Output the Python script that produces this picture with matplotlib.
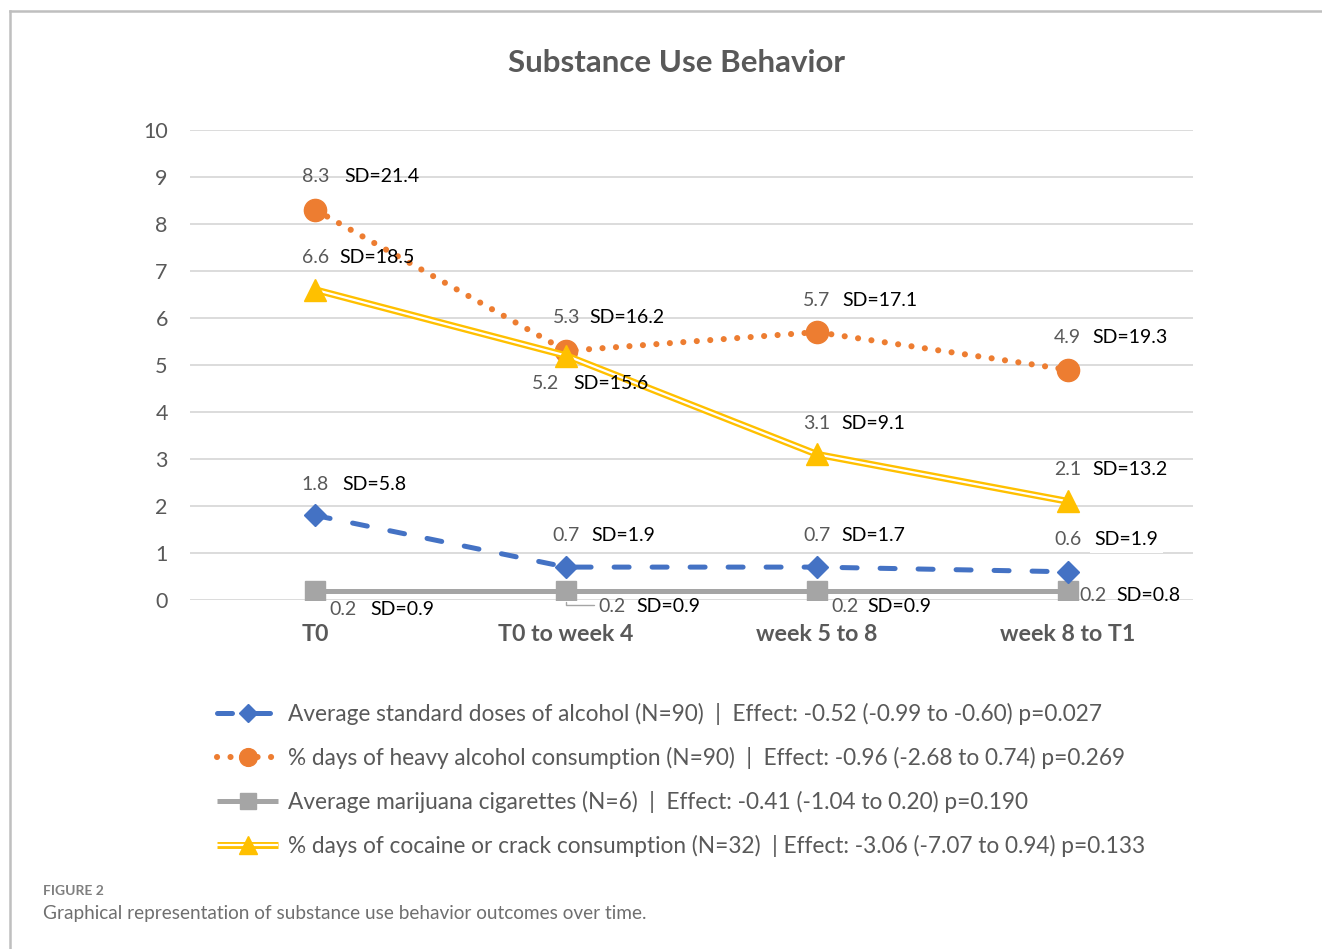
import matplotlib
matplotlib.use("Agg")
import matplotlib.pyplot as plt
from matplotlib.lines import Line2D
from matplotlib.legend_handler import HandlerTuple

plt.rcParams["font.family"] = ["Lato", "DejaVu Sans"]

# data
periods = ["T0", "T0 to week 4", "week 5 to 8", "week 8 to T1"]
alcohol_doses = [1.8, 0.7, 0.7, 0.6]
alcohol_doses_sd = [5.8, 1.9, 1.7, 1.9]
heavy_days = [8.3, 5.3, 5.7, 4.9]
heavy_days_sd = [21.4, 16.2, 17.1, 19.3]
marijuana = [0.2, 0.2, 0.2, 0.2]
marijuana_sd = [0.9, 0.9, 0.9, 0.8]
cocaine_days = [6.6, 5.2, 3.1, 2.1]
cocaine_days_sd = [18.5, 15.6, 9.1, 13.2]

legend_labels = [
    "Average standard doses of alcohol (N=90)  |  Effect: -0.52 (-0.99 to -0.60) p=0.027",
    "% days of heavy alcohol consumption (N=90)  |  Effect: -0.96 (-2.68 to 0.74) p=0.269",
    "Average marijuana cigarettes (N=6)  |  Effect: -0.41 (-1.04 to 0.20) p=0.190",
    "% days of cocaine or crack consumption (N=32)  | Effect: -3.06 (-7.07 to 0.94) p=0.133",
]

BLUE = "#4472C4"
ORANGE = "#ED7D31"
GRAY = "#A5A5A5"
YELLOW = "#FFC000"
TXT = "#595959"

# label offsets in pixels: (value centre dx, dy, SD left dx)
blue_off = [(0, -31, 27), (0, -32, 25), (0, -32, 24), (0, -32, 27)]
orange_off = [(0, -33, 29), (0, -33, 23), (0, -32, 25), (0, -32, 25)]
gray_off = [(28, 19, 55), (46, 16, 70), (28, 16, 50), (25, 5, 49)]
yellow_off = [(0, -32, 24), (-21, 28, 7), (0, -31, 24), (0, -32, 25)]

W, H = 1322, 949
fig = plt.figure(figsize=(W / 100, H / 100), dpi=100)
ax = fig.add_axes([190 / W, 1 - 600 / H, 1003 / W, 470 / H])

x = list(range(len(periods)))

ax.set_xlim(-0.5, 3.5)
ax.set_ylim(0, 10)
ax.set_yticks(range(0, 11))
ax.grid(axis="y", color="#d9d9d9", linewidth=1.3)
ax.set_axisbelow(True)
for s in ax.spines.values():
    s.set_visible(False)
ax.tick_params(length=0)
ax.tick_params(axis="y", labelsize=15.5, labelcolor=TXT, pad=16)
ax.tick_params(axis="x", labelsize=16.7, labelcolor=TXT, pad=17)
ax.set_xticks(x)
ax.set_xticklabels(periods, fontweight="bold")

# gray marijuana line
gray_line, = ax.plot(x, marijuana, color=GRAY, lw=3.6, marker="s", ms=15,
                     solid_capstyle="butt", zorder=3)
# blue dashed
blue_line, = ax.plot(x, alcohol_doses, color=BLUE, lw=3.6, marker="D", ms=11,
                     dashes=(3.0, 4.6), dash_capstyle="round", zorder=4)
# yellow double line
y_outer, = ax.plot(x, cocaine_days, color=YELLOW, lw=5.0, zorder=5,
                   solid_capstyle="butt")
y_inner, = ax.plot(x, cocaine_days, color="white", lw=1.6, zorder=5,
                   solid_capstyle="butt")
y_mark, = ax.plot(x, cocaine_days, color=YELLOW, lw=0, marker="^", ms=16,
                  zorder=6)
# orange dotted
orange_line, = ax.plot(x, heavy_days, color=ORANGE, lw=4.4, marker="o", ms=16,
                       dashes=(0.01, 2.2), dash_capstyle="round", zorder=4)


def label_series(vals, sds, offs, box=()):
    for i, (xi, v, sd, (dv, dy, dsd)) in enumerate(zip(x, vals, sds, offs)):
        ax.annotate(f"{v:.1f}", (xi, v), xytext=(dv * 0.72, -dy * 0.72),
                    textcoords="offset points", ha="center", va="center",
                    fontsize=14, color=TXT, zorder=7)
        bb = dict(boxstyle="square,pad=0.25", fc="white", ec="none") if i in box else None
        ax.annotate(f"SD={sd}", (xi, v), xytext=(dsd * 0.72, -dy * 0.72),
                    textcoords="offset points", ha="left", va="center",
                    fontsize=14, color="black", zorder=7, bbox=bb)


label_series(heavy_days, heavy_days_sd, orange_off)
label_series(cocaine_days, cocaine_days_sd, yellow_off)
label_series(alcohol_doses, alcohol_doses_sd, blue_off, box=(3,))
label_series(marijuana, marijuana_sd, gray_off)

# small leader line for second gray label
ax.annotate("", xy=(x[1], marijuana[1]), xytext=(28 * 0.72, -14 * 0.72),
            textcoords="offset points",
            arrowprops=dict(arrowstyle="-", color=GRAY, lw=1,
                            shrinkA=0, shrinkB=8,
                            connectionstyle="angle,angleA=0,angleB=90,rad=0"))

fig.text(676 / W, 1 - 63 / H, "Substance Use Behavior", ha="center",
         va="center", fontsize=22.5, fontweight="bold", color=TXT)

handles = [blue_line, orange_line, gray_line, (y_outer, y_inner, y_mark)]
leg = fig.legend(handles, legend_labels, loc="upper left",
                 bbox_to_anchor=(217 / W, 1 - 703 / H), frameon=False,
                 fontsize=16.3, labelcolor=TXT, handlelength=2.7,
                 handletextpad=0.45, labelspacing=0.97, borderpad=0,
                 markerscale=0.8, borderaxespad=0,
                 handler_map={tuple: HandlerTuple(ndivide=1)})

# frame lines of the figure panel
fig.add_artist(Line2D([10 / W, 1], [1 - 11 / H, 1 - 11 / H], color="#bfbfbf", lw=1.8))
fig.add_artist(Line2D([10 / W, 10 / W], [0, 1 - 11 / H], color="#bfbfbf", lw=1.8))

fig.text(43 / W, 1 - 891 / H, "FIGURE 2", ha="left", va="center",
         fontsize=10, fontweight="bold", color="#7f7f7f")
fig.text(43 / W, 1 - 914 / H,
         "Graphical representation of substance use behavior outcomes over time.",
         ha="left", va="center", fontsize=13.7, color="#6f6f6f")

fig.savefig("out.png", dpi=100)
